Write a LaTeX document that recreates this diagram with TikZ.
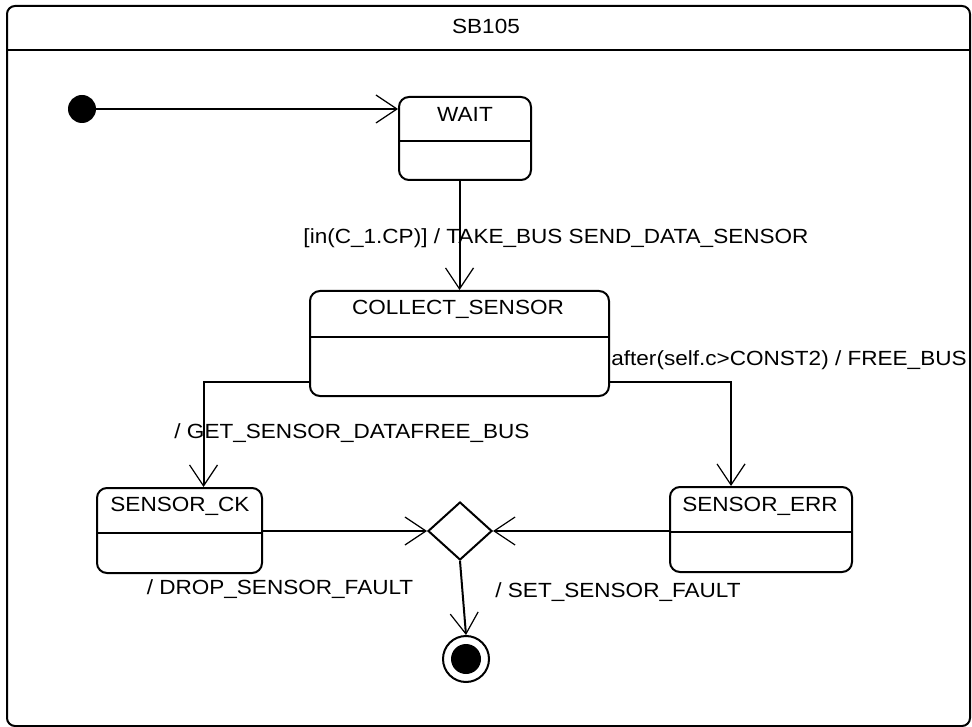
\documentclass[tikz,border=0pt]{standalone}
\usepackage{fontspec}
\setmainfont[FakeStretch=1.1]{Liberation Sans}
\usetikzlibrary{arrows.meta,shapes.geometric}
\tikzset{
  lw/.style={line width=2pt},
  statebox/.style={draw, lw, rounded corners=10pt, fill=white, inner sep=0pt},
  arr/.style={lw, -{Straight Barb[length=21pt,width=28pt,line width=1.2pt]}},
  lbl/.style={font=\fontsize{20.5}{24}\selectfont, inner sep=0pt},
  ttl/.style={font=\fontsize{20.5}{24}\selectfont, inner sep=0pt},
}
\begin{document}
\begin{tikzpicture}[x=1pt,y=-1pt]
\useasboundingbox (0,0) rectangle (972,727);
% frame
\draw[lw, rounded corners=8pt] (7,6) rectangle (970,726);
\draw[lw] (7,50) -- (970,50);
\node[ttl] (title) at (486,26) {SB105};
% states
\node[statebox, minimum width=132pt, minimum height=83pt] (wait) at (465,138.5) {};
\draw[lw] (399,141) -- (531,141);
\node[ttl] (waitt) at (465,114) {WAIT};

\node[statebox, minimum width=299pt, minimum height=105pt] (collect) at (459.5,343.5) {};
\draw[lw] (310,337) -- (609,337);
\node[ttl] (collectt) at (458,309) {COLLECT\_SENSOR};

\node[statebox, minimum width=165pt, minimum height=85pt] (sck) at (179.5,530.5) {};
\draw[lw] (97,533) -- (262,533);
\node[ttl] (sckt) at (180,506) {SENSOR\_CK};

\node[statebox, minimum width=182pt, minimum height=85pt] (serr) at (761,529.5) {};
\draw[lw] (670,532) -- (852,532);
\node[ttl] (serrt) at (760,506) {SENSOR\_ERR};

\node[draw, lw, diamond, minimum width=64pt, minimum height=58pt, inner sep=0pt, fill=white] (dia) at (460,531) {};

\node[circle, fill=black, minimum size=28pt, inner sep=0pt] (init) at (82,109) {};
\node[circle, draw, lw, minimum size=46pt, inner sep=0pt] (final) at (466,659) {};
\fill (final.center) circle[radius=15pt];

% connectors
\draw[arr] (init.east) -- (init -| wait.west);
\draw[arr] (collect.north |- wait.south) -- (collect.north);
\draw[arr] ([yshift=15pt]collect.south west) -| ([xshift=24pt]sck.north);
\draw[arr] ([yshift=15pt]collect.south east) -| ([xshift=-30pt]serr.north);
\draw[arr] (dia.west -| sck.east) -- (dia.west);
\draw[arr] (dia.east -| serr.west) -- (dia.east);
\draw[arr] (dia.south) -- (final.north);

% labels
\node[lbl] (l1) at (556,238) {[in(C\_1.CP)] / TAKE\_BUS SEND\_DATA\_SENSOR};
\node[lbl] (l2) at (789,360) {after(self.c>CONST2) / FREE\_BUS};
\node[lbl] (l3) at (352,433) {/ GET\_SENSOR\_DATAFREE\_BUS};
\node[lbl] (l4) at (280,589) {/ DROP\_SENSOR\_FAULT};
\node[lbl] (l5) at (618,592) {/ SET\_SENSOR\_FAULT};
\end{tikzpicture}
\end{document}
